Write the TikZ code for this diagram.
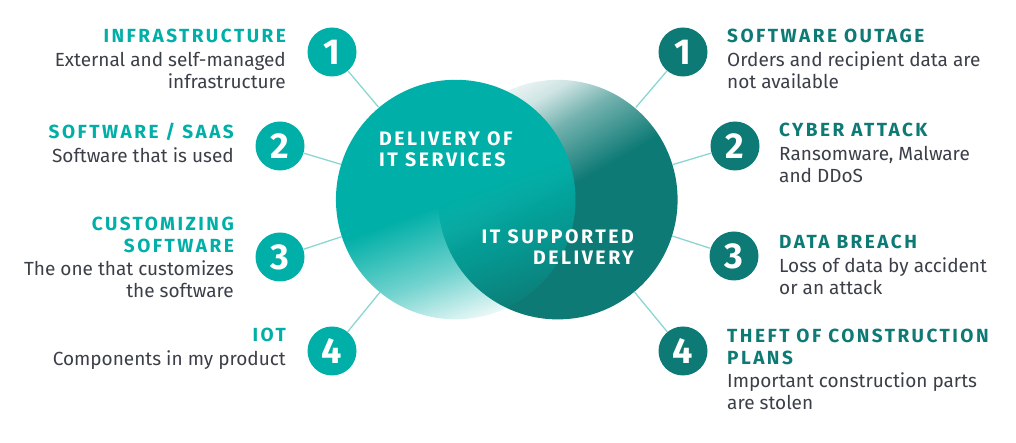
\documentclass[tikz,border=0pt]{standalone}
\usepackage{fontspec}
\setmainfont{Fira Sans}
\newfontfamily\headfont[LetterSpace=13]{Fira Sans}
\usetikzlibrary{positioning, fadings}
\definecolor{tealL}{HTML}{00AFA7}
\definecolor{tealD}{HTML}{0E7A75}
\definecolor{linkc}{HTML}{8AD6D2}
\definecolor{txtgray}{HTML}{3B3F47}
% fadings: white = opaque, black = transparent (path spans 25bp--75bp)
\pgfdeclareverticalshading{shadeleft}{100bp}{color(0bp)=(black); color(25bp)=(black!92); color(36bp)=(black!45); color(50bp)=(white); color(100bp)=(white)}
\pgfdeclarefading{fadeleft}{\pgfuseshading{shadeleft}}
\pgfdeclareverticalshading{shaderight}{100bp}{color(0bp)=(white); color(51bp)=(white); color(63bp)=(black!42); color(70bp)=(black!80); color(75bp)=(black!92); color(100bp)=(black)}
\pgfdeclarefading{faderight}{\pgfuseshading{shaderight}}
\newcommand{\hl}[1]{{\headfont\color{tealL}\bfseries #1}}
\newcommand{\hd}[1]{{\headfont\color{tealD}\bfseries #1}}

\begin{document}
\begin{tikzpicture}[
    x=1pt, y=1pt,
    bigcircle/.style={circle, minimum size=240pt, inner sep=0pt},
    num/.style={circle, minimum size=49pt, inner sep=0pt, text=white, font=\fontsize{36}{36}\selectfont\bfseries},
    numL/.style={num, fill=tealL},
    numD/.style={num, fill=tealD},
    infoL/.style={inner sep=0pt, align=right, anchor=north east, text=txtgray, font=\fontsize{19}{21.5}\selectfont},
    infoR/.style={inner sep=0pt, align=left, anchor=north west, text=txtgray, font=\fontsize{19}{21.5}\selectfont},
    title/.style={inner sep=0pt, text=white, font=\fontsize{19.5}{21}\selectfont\headfont\bfseries},
    link/.style={draw=linkc, line width=1.3pt},
]
\useasboundingbox (0,0) rectangle (1016,443);

% Venn circles
\node[bigcircle, fill=tealD, path fading=faderight, fading angle=30] (itsup) at (558,244) {};
\node[bigcircle, fill=tealL, path fading=fadeleft, fading angle=20] (itdel) at (456,244) {};
\node[title, align=left, anchor=north west] (deltext) at (379,312) {DELIVERY OF\\IT SERVICES};
\node[title, align=right, anchor=north east] (suptext) at (634,214) {IT SUPPORTED\\DELIVERY};

% Numbered circles
\node[numL] (l1) at (332,391) {1};
\node[numL] (l2) at (280,297) {2};
\node[numL] (l3) at (280,186) {3};
\node[numL] (l4) at (332,92) {4};
\node[numD] (r1) at (683,391) {1};
\node[numD] (r2) at (735,297) {2};
\node[numD] (r3) at (734,187) {3};
\node[numD] (r4) at (683,92) {4};

% Links
\foreach \n in {l1,l2,l3,l4}
    \draw[link] (\n) -- (itdel);
\foreach \n in {r1,r2,r3,r4}
    \draw[link] (\n) -- (itsup);

% Left texts
\node[infoL] (t1) at (286,414) {\hl{INFRASTRUCTURE}\\[2.5pt]External and self-managed\\infrastructure};
\node[infoL] (t2) at (234,320) {\hl{SOFTWARE / SAAS}\\[2.5pt]Software that is used};
\node[infoL] (t3) at (234,226) {\hl{CUSTOMIZING}\\\hl{SOFTWARE}\\[2pt]The one that customizes\\the software};
\node[infoL] (t4) at (286,115) {\hl{IOT}\\[2.5pt]Components in my product};

% Right texts
\node[infoR] (s1) at (727,414) {\hd{SOFTWARE OUTAGE}\\[2.5pt]Orders and recipient data are\\not available};
\node[infoR] (s2) at (779,320) {\hd{CYBER ATTACK}\\[2.5pt]Ransomware, Malware\\and DDoS};
\node[infoR] (s3) at (779,208) {\hd{DATA BREACH}\\[2.5pt]Loss of data by accident\\or an attack};
\node[infoR] (s4) at (727,114) {\hd{THEFT OF CONSTRUCTION}\\\hd{PLANS}\\[2pt]Important construction parts\\are stolen};

\end{tikzpicture}
\end{document}
